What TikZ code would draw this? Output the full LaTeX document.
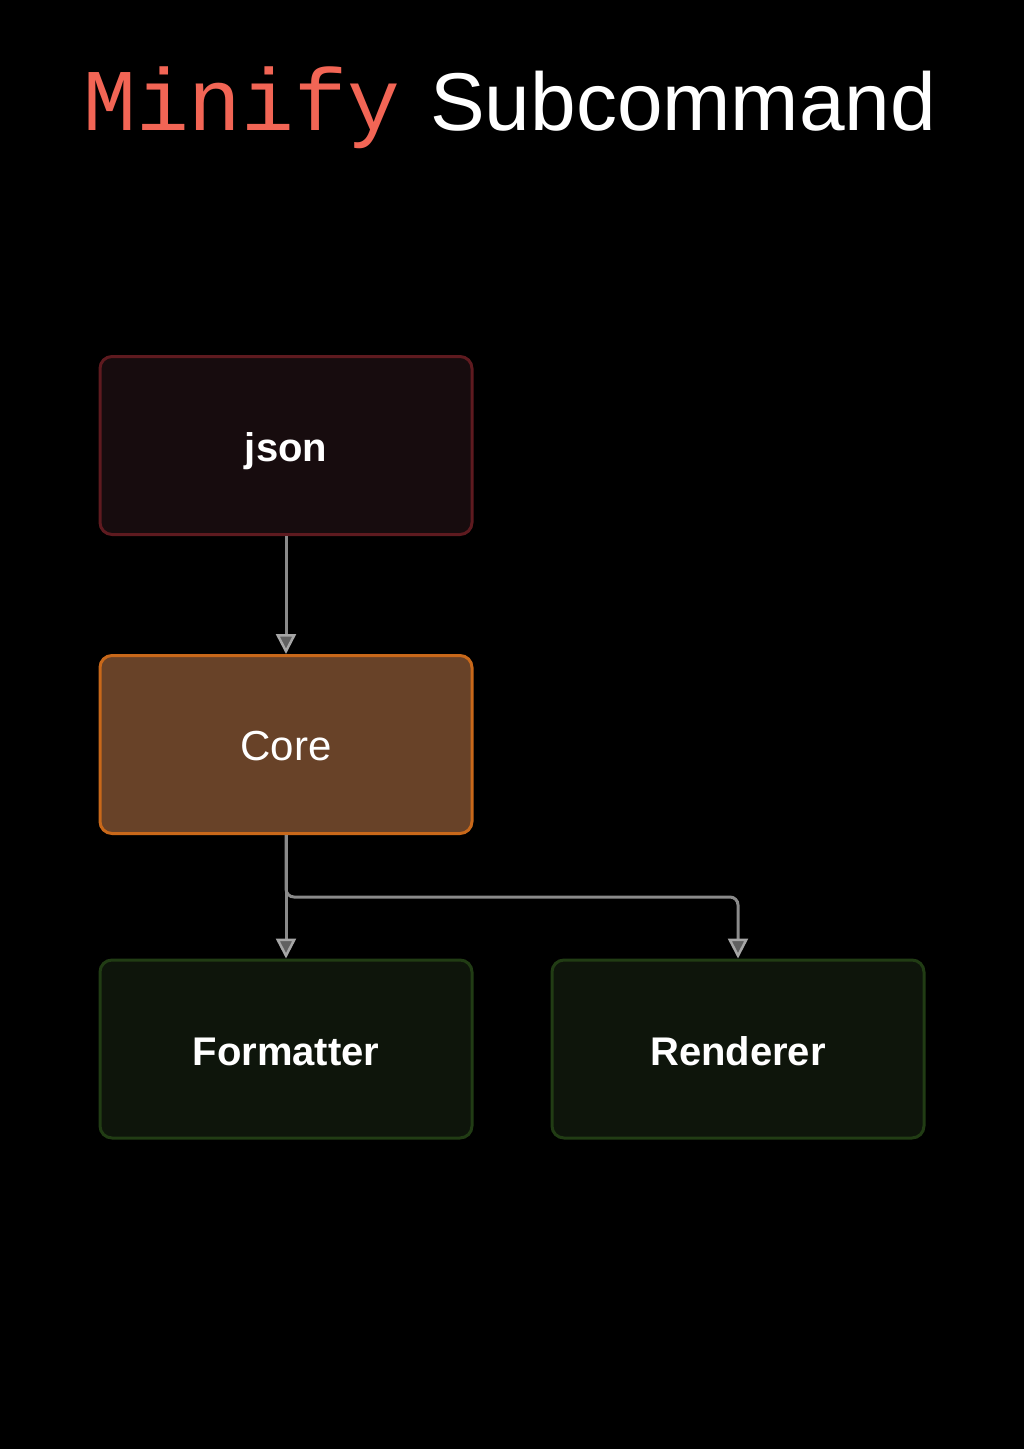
\documentclass[tikz,border=0pt]{standalone}
\usepackage{fontspec}
\setmainfont{Liberation Sans}
\newfontfamily\codefont{Liberation Mono}
\usetikzlibrary{arrows.meta}

\definecolor{titlered}{HTML}{F26555}
\definecolor{jsonfill}{HTML}{170C0E}
\definecolor{jsonline}{HTML}{5E1A1F}
\definecolor{corefill}{HTML}{684228}
\definecolor{coreline}{HTML}{C8681A}
\definecolor{outfill}{HTML}{0E150B}
\definecolor{outline}{HTML}{213C14}
\definecolor{flowgray}{HTML}{8A8A8A}

\tikzset{
    box/.style={draw, rounded corners=12pt, line width=3pt,
        minimum width=372pt, minimum height=178pt, text=white,
        text height=32pt, text depth=0pt,
        font=\fontsize{40}{48}\selectfont},
    jsonbox/.style={box, fill=jsonfill, draw=jsonline, font=\fontsize{40}{48}\selectfont\bfseries},
    corebox/.style={box, fill=corefill, draw=coreline, font=\fontsize{42}{50}\selectfont},
    outbox/.style={box, fill=outfill, draw=outline, font=\fontsize{40}{48}\selectfont\bfseries},
    flow/.style={draw=flowgray, line width=3pt,
        -{Triangle[length=20pt, width=20pt, fill=flowgray!70!black, color=gray!70!white, line width=2.5pt]}}
}

\begin{document}
\begin{tikzpicture}[x=1pt, y=-1pt]
    % Background
    \fill[black] (0,0) rectangle (1024,1449);
    \useasboundingbox (0,0) rectangle (1024,1449);

    % Title
    \node[anchor=base west, inner sep=0pt, text=titlered, font=\fontsize{88}{96}\codefont] (cmd) at (83,130) {Minify};
    \node[anchor=base west, inner sep=0pt, text=white, font=\fontsize{82}{90}\selectfont] (title) at (430,130) {Subcommand};

    % Boxes
    \node[jsonbox] (json) at (286,445.5) {json};
    \node[corebox] (core) at (286,744.5) {Core};
    \node[outbox] (formatter) at (286,1049) {Formatter};
    \node[outbox] (renderer) at (738,1049) {Renderer};

    % Connectors
    \draw[flow] (json) -- (core);
    \draw[flow] (core) -- (formatter);
    \draw[flow, rounded corners=8pt] (core.south) -- ++(0,62) -| (renderer.north);
\end{tikzpicture}
\end{document}
